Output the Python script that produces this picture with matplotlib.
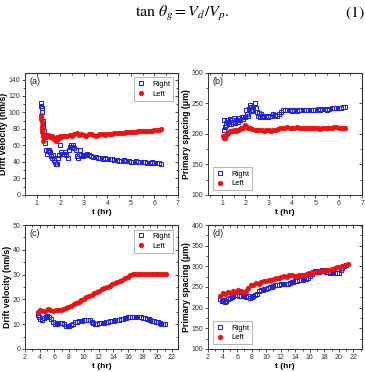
import matplotlib
matplotlib.use("Agg")
import matplotlib.pyplot as plt
from matplotlib.ticker import MultipleLocator

plt.rcParams['font.family'] = ['Liberation Sans', 'DejaVu Sans']
plt.rcParams['mathtext.fontset'] = 'stix'

# (a) drift velocity, short run
t_a_right = [1.18, 1.20, 1.22, 1.24, 1.26, 1.28, 1.30, 1.33, 1.36, 1.40, 1.44, 1.48, 1.52, 1.56,
             1.60, 1.64, 1.68, 1.72, 1.76, 1.80, 1.84, 1.90, 1.95, 2.00, 2.04, 2.08, 2.14, 2.20,
             2.26, 2.32, 2.36, 2.40, 2.45, 2.50, 2.55, 2.60, 2.65, 2.70, 2.74, 2.78, 2.82, 2.88,
             2.95, 3.00, 3.08, 3.15, 3.22, 3.30, 3.40, 3.50, 3.60, 3.70, 3.80, 3.90, 4.00, 4.10,
             4.20, 4.30, 4.40, 4.50, 4.60, 4.70, 4.80, 4.90, 5.00, 5.10, 5.20, 5.30, 5.40, 5.50,
             5.60, 5.70, 5.80, 5.90, 6.00, 6.10, 6.20, 6.30]
v_a_right = [108, 112, 105, 100, 90, 84, 78, 70, 63, 55, 50, 53, 55, 52,
             47, 45, 48, 42, 40, 37, 38, 45, 48, 60, 52, 50, 50, 52,
             48, 45, 55, 58, 60, 58, 60, 57, 55, 47, 45, 50, 55, 48,
             47, 48, 49, 50, 48, 47, 46, 46, 45, 45, 44, 45, 44, 43,
             43, 42, 42, 41, 41, 42, 41, 41, 40, 40, 41, 40, 40, 40,
             40, 39, 39, 40, 39, 39, 39, 38]
t_a_left = [1.18, 1.19, 1.20, 1.21, 1.22, 1.23, 1.24, 1.25, 1.27, 1.30, 1.34, 1.38, 1.42, 1.46,
            1.50, 1.55, 1.60, 1.65, 1.70, 1.75, 1.80, 1.85, 1.90, 1.95, 2.00, 2.05, 2.10, 2.15,
            2.20, 2.30, 2.40, 2.50, 2.60, 2.70, 2.80, 2.90, 3.00, 3.10, 3.20, 3.30, 3.40, 3.50,
            3.60, 3.70, 3.80, 3.90, 4.00, 4.10, 4.20, 4.30, 4.40, 4.50, 4.60, 4.70, 4.80, 4.90,
            5.00, 5.10, 5.20, 5.30, 5.40, 5.50, 5.60, 5.70, 5.80, 5.90, 6.00, 6.10, 6.20, 6.30]
v_a_left = [97, 95, 92, 88, 84, 80, 76, 72, 66, 70, 72, 71, 72, 73,
            71, 70, 72, 71, 69, 68, 66, 70, 68, 70, 71, 70, 72, 71,
            72, 71, 73, 72, 74, 75, 73, 74, 73, 72, 74, 74, 73, 72,
            73, 74, 74, 73, 74, 74, 74, 75, 75, 75, 75, 75, 76, 76,
            76, 76, 76, 77, 77, 77, 77, 78, 78, 78, 78.5, 79, 79, 80]

# (b) primary spacing, short run
t_b_right = [1.07, 1.09, 1.12, 1.15, 1.18, 1.21, 1.25, 1.29, 1.33, 1.37, 1.42, 1.47, 1.52, 1.57,
             1.62, 1.67, 1.72, 1.78, 1.84, 1.90, 1.97, 2.02, 2.06, 2.10, 2.14, 2.18, 2.22, 2.26,
             2.30, 2.34, 2.40, 2.44, 2.48, 2.53, 2.58, 2.63, 2.68, 2.74, 2.80, 2.88, 2.96, 3.04,
             3.12, 3.20, 3.28, 3.36, 3.44, 3.52, 3.60, 3.70, 3.80, 3.90, 4.00, 4.10, 4.20, 4.30,
             4.40, 4.50, 4.60, 4.70, 4.80, 4.90, 5.00, 5.10, 5.20, 5.30, 5.40, 5.50, 5.60, 5.70,
             5.80, 5.90, 6.00, 6.10, 6.20, 6.28]
s_b_right = [206, 223, 212, 218, 214, 222, 219, 216, 224, 217, 222, 219, 226, 218,
             223, 220, 226, 222, 227, 224, 228, 240, 233, 230, 241, 247, 239, 244,
             237, 244, 251, 243, 236, 230, 234, 228, 232, 230, 228, 230, 228, 230,
             229, 232, 231, 230, 233, 236, 240, 239, 240, 239, 238, 239, 238, 239,
             240, 239, 240, 240, 239, 240, 240, 241, 240, 241, 241, 240, 241, 242,
             242, 242, 243, 243, 244, 244]
t_b_left = [1.05, 1.08, 1.11, 1.14, 1.17, 1.21, 1.25, 1.30, 1.35, 1.40, 1.46, 1.52, 1.58, 1.64,
            1.70, 1.76, 1.82, 1.88, 1.94, 1.99, 2.05, 2.12, 2.20, 2.30, 2.40, 2.50, 2.60, 2.70,
            2.80, 2.90, 3.00, 3.10, 3.20, 3.30, 3.40, 3.50, 3.60, 3.70, 3.80, 3.90, 4.00, 4.10,
            4.20, 4.30, 4.40, 4.50, 4.60, 4.70, 4.80, 4.90, 5.00, 5.10, 5.20, 5.30, 5.40, 5.50,
            5.60, 5.70, 5.80, 5.90, 6.00, 6.10, 6.20, 6.25]
s_b_left = [197, 194, 193, 196, 198, 200, 201, 203, 204, 205, 204, 206, 205, 207,
            206, 208, 209, 210, 212, 214, 211, 210, 209, 208, 207, 207, 206, 206,
            205, 206, 206, 205, 206, 207, 208, 209, 210, 210, 211, 210, 210, 210,
            211, 210, 210, 210, 209, 210, 210, 210, 209, 209, 208, 209, 210, 209,
            210, 210, 211, 211, 210, 209, 209, 209]

# (c) drift velocity, long run
t_c_right = [3.70, 3.85, 4.05, 4.30, 4.55, 4.80, 5.05, 5.30, 5.55, 5.80, 6.05, 6.30, 6.55, 6.80,
             7.05, 7.30, 7.55, 7.80, 8.05, 8.30, 8.55, 8.80, 9.05, 9.30, 9.55, 9.80, 10.05, 10.30,
             10.55, 10.80, 11.05, 11.30, 11.55, 11.80, 12.05, 12.30, 12.55, 12.80, 13.05, 13.30,
             13.55, 13.80, 14.05, 14.30, 14.55, 14.80, 15.05, 15.30, 15.55, 15.80, 16.05, 16.30,
             16.55, 16.80, 17.05, 17.30, 17.55, 17.80, 18.05, 18.30, 18.55, 18.80, 19.05, 19.30,
             19.55, 19.80, 20.05, 20.30, 20.55, 20.80, 21.05]
v_c_right = [13.8, 12.8, 12.2, 11.8, 12.3, 12.8, 13.2, 12.9, 12.2, 11.0, 10.2, 9.9, 10.3, 10.6,
             10.3, 9.9, 9.4, 9.1, 9.3, 9.7, 10.2, 10.8, 11.0, 11.1, 11.2, 11.4, 11.6, 11.7,
             11.8, 11.6, 10.8, 10.3, 10.2, 10.2, 10.3, 10.4, 10.5, 10.6, 10.8, 11.0,
             11.1, 11.2, 11.4, 11.5, 11.6, 11.8, 12.0, 12.2, 12.4, 12.5, 12.7, 12.8,
             12.9, 13.0, 12.9, 12.8, 12.7, 12.7, 12.5, 12.3, 12.1, 11.9, 11.7, 11.4,
             11.2, 10.9, 10.7, 10.4, 10.2, 10.0, 9.9]
t_c_left = [3.70, 4.05, 4.40, 4.75, 5.10, 5.45, 5.80, 6.15, 6.50, 6.85, 7.20, 7.55, 7.90, 8.25,
            8.60, 8.95, 9.30, 9.65, 10.00, 10.35, 10.70, 11.05, 11.40, 11.75, 12.10, 12.45,
            12.80, 13.15, 13.50, 13.85, 14.20, 14.55, 14.90, 15.25, 15.60, 15.95, 16.30, 16.65,
            17.00, 17.35, 17.70, 18.05, 18.40, 18.75, 19.10, 19.45, 19.80, 20.15, 20.50, 20.85,
            21.20]
v_c_left = [15.0, 15.8, 15.2, 15.5, 16.3, 15.6, 15.4, 15.6, 15.8, 15.9, 16.2, 16.5, 17.0, 17.5,
            18.0, 18.6, 19.1, 19.7, 20.2, 20.8, 21.3, 21.9, 22.4, 23.0, 23.5, 24.0,
            24.6, 25.1, 25.6, 26.1, 26.6, 27.0, 27.5, 28.0, 28.6, 29.2, 29.8, 30.1,
            30.2, 30.1, 30.4, 30.2, 30.3, 30.2, 30.3, 30.1, 30.3, 30.4, 30.2, 30.3,
            30.2]

# (d) primary spacing, long run
t_d_right = [3.70, 3.90, 4.10, 4.30, 4.50, 4.75, 5.00, 5.25, 5.50, 5.75, 6.00, 6.25, 6.50, 6.75,
             7.00, 7.25, 7.50, 7.75, 8.00, 8.25, 8.50, 8.75, 9.00, 9.25, 9.50, 9.75, 10.00, 10.25,
             10.50, 10.75, 11.00, 11.25, 11.50, 11.75, 12.00, 12.25, 12.50, 12.75, 13.00, 13.25,
             13.50, 13.75, 14.00, 14.25, 14.50, 14.75, 15.00, 15.25, 15.50, 15.75, 16.00, 16.25,
             16.50, 16.75, 17.00, 17.25, 17.50, 17.75, 18.00, 18.25, 18.50, 18.75, 19.00, 19.25,
             19.50, 19.75, 20.00, 20.25, 20.50, 20.75, 21.00]
s_d_right = [222, 215, 218, 214, 216, 220, 224, 226, 228, 230, 231, 229, 228, 231,
             228, 225, 227, 224, 226, 229, 231, 234, 240, 242, 243, 244, 246, 247,
             249, 250, 252, 254, 255, 256, 257, 258, 258, 257, 258, 260,
             262, 263, 264, 265, 266, 267, 268, 270, 270, 272, 276, 282,
             287, 289, 288, 287, 288, 290, 289, 287, 286, 285, 286, 287,
             285, 285, 284, 290, 296, 300, 303]
t_d_left = [3.70, 4.05, 4.40, 4.75, 5.10, 5.45, 5.80, 6.15, 6.50, 6.85, 7.20, 7.55, 7.90, 8.25,
            8.60, 8.95, 9.30, 9.65, 10.00, 10.35, 10.70, 11.05, 11.40, 11.75, 12.10, 12.45,
            12.80, 13.15, 13.50, 13.85, 14.20, 14.55, 14.90, 15.25, 15.60, 15.95, 16.30, 16.65,
            17.00, 17.35, 17.70, 18.05, 18.40, 18.75, 19.10, 19.45, 19.80, 20.15, 20.50, 20.85,
            21.20]
s_d_left = [229, 236, 233, 237, 236, 240, 238, 242, 240, 238, 240, 248, 254, 256,
            259, 258, 262, 264, 265, 268, 267, 270, 271, 272, 275, 276,
            274, 278, 279, 277, 276, 278, 279, 280, 282, 283, 284, 286,
            287, 288, 289, 290, 291, 292, 294, 296, 298, 299, 300, 303,
            306]

BLUE = '#2020e0'
RED = '#ee1111'


def style(ax, label, xlim, ylim, xmaj, xmin, ymaj, ymin, ylabel, legloc):
    ax.set_xlim(xlim)
    ax.set_ylim(ylim)
    ax.xaxis.set_major_locator(MultipleLocator(xmaj))
    ax.xaxis.set_minor_locator(MultipleLocator(xmin))
    ax.yaxis.set_major_locator(MultipleLocator(ymaj))
    ax.yaxis.set_minor_locator(MultipleLocator(ymin))
    ax.tick_params(which='both', direction='out', labelsize=5, width=0.6, pad=1.2, colors='#333333')
    ax.tick_params(which='major', length=2.2)
    ax.tick_params(which='minor', length=1.3)
    for s in ax.spines.values():
        s.set_linewidth(0.7)
        s.set_color('#333333')
    # inward ticks on top and right, like Origin
    top = ax.secondary_xaxis('top')
    top.xaxis.set_major_locator(MultipleLocator(xmaj))
    top.xaxis.set_minor_locator(MultipleLocator(xmin))
    top.tick_params(which='both', direction='in', labeltop=False, width=0.6, colors='#333333')
    top.tick_params(which='major', length=2.2)
    top.tick_params(which='minor', length=1.3)
    right = ax.secondary_yaxis('right')
    right.yaxis.set_major_locator(MultipleLocator(ymaj))
    right.yaxis.set_minor_locator(MultipleLocator(ymin))
    right.tick_params(which='both', direction='in', labelright=False, width=0.6, colors='#333333')
    right.tick_params(which='major', length=2.2)
    right.tick_params(which='minor', length=1.3)
    ax.text(0.03, 0.965, label, transform=ax.transAxes, ha='left', va='top', fontsize=6.5, color='#222222')
    ax.set_xlabel('t (hr)', fontsize=6, fontweight='bold', labelpad=1.5)
    ax.set_ylabel(ylabel, fontsize=6.3, fontweight='bold', labelpad=0.5)
    ax.legend(loc=legloc, fontsize=5.5, frameon=True, fancybox=False, edgecolor='#999999',
              handlelength=1.2, handletextpad=0.8, borderpad=0.4, labelspacing=0.3,
              borderaxespad=0.6, framealpha=1).get_frame().set_linewidth(0.5)


fig = plt.figure(figsize=(3.65, 3.72), dpi=100)
fig.text(0.5, 0.965, r'$\tan\,\theta_g = V_d/V_p.$', ha='center', va='center', fontsize=11.5)
fig.text(0.945, 0.965, r'$\mathrm{(1)}$', ha='left', va='center', fontsize=11.5)

ax_a = fig.add_axes([0.0685, 0.476, 0.419, 0.328])
ax_b = fig.add_axes([0.570, 0.476, 0.422, 0.328])
ax_c = fig.add_axes([0.0685, 0.062, 0.419, 0.333])
ax_d = fig.add_axes([0.570, 0.062, 0.422, 0.333])

panels = [
    (ax_a, t_a_right, v_a_right, t_a_left, v_a_left),
    (ax_b, t_b_right, s_b_right, t_b_left, s_b_left),
    (ax_c, t_c_right, v_c_right, t_c_left, v_c_left),
    (ax_d, t_d_right, s_d_right, t_d_left, s_d_left),
]
for ax, tr, yr, tl, yl in panels:
    ax.plot(tr, yr, 's', ms=3.3, mfc='none', mec=BLUE, mew=0.75, label='Right')
    ax.plot(tl, yl, 'o', ms=3.3, mfc=RED, mec=RED, mew=0.5, label='Left')

style(ax_a, '(a)', (0.5, 7), (0, 148), 1, 0.5, 20, 10, 'Drift velocity (nm/s)', 'upper right')
style(ax_b, '(b)', (0.4, 7), (100, 300), 1, 0.5, 50, 25, 'Primary spacing (\u03bcm)', 'lower left')
style(ax_c, '(c)', (2, 22.8), (0, 50), 2, 1, 10, 5, 'Drift velocity (nm/s)', 'upper right')
style(ax_d, '(d)', (2, 23.2), (100, 400), 2, 1, 50, 25, 'Primary spacing (\u03bcm)', 'lower left')

fig.savefig('out.png', dpi=100)
